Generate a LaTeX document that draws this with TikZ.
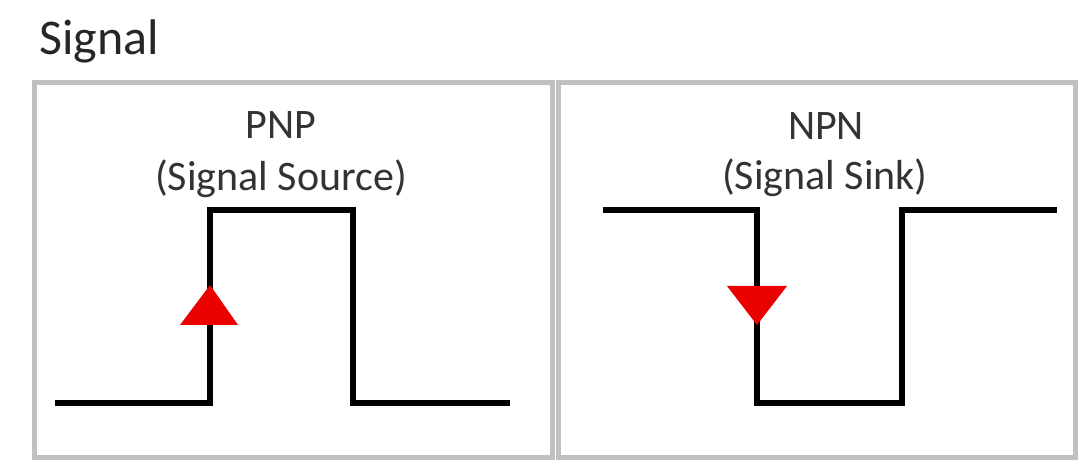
\documentclass[tikz,border=0pt]{standalone}
\usepackage{fontspec}
\setmainfont{Carlito}
\usetikzlibrary{positioning}
\definecolor{boxgray}{RGB}{192,192,192}
\definecolor{sigred}{RGB}{235,0,0}
\tikzset{
  panel/.style={draw=boxgray, line width=5pt, minimum height=374pt, inner sep=0pt},
  wave/.style={draw=black, line width=6.5pt, line join=miter},
  label/.style={font=\fontsize{42}{50}\selectfont, text=black!80, inner sep=0pt, anchor=base},
  marker/.style={fill=sigred}
}

\begin{document}
\begin{tikzpicture}[x=1pt, y=-1pt]
\useasboundingbox (0,0) rectangle (1088,473);
\node[font=\fontsize{50}{60}\selectfont, text=black!85, inner sep=0pt, anchor=base west] (title) at (39,55) {Signal};

% the two panels
\node[panel, minimum width=518pt] (src) at (293,270) {};
\node[panel, minimum width=517pt] (sink) at (816.5,270) {};

\node[label] (pnp) at (281,139) {PNP};
\node[label] (srcname) at (281,191) {(Signal Source)};
\node[label] (npn) at (826,140) {NPN};
\node[label] (sinkname) at (825,190) {(Signal Sink)};

% source pulse
\coordinate (a0) at (55,403);
\coordinate (a1) at (210,403);
\coordinate (a2) at (210,210);
\coordinate (a3) at (353,210);
\coordinate (a4) at (353,403);
\coordinate (a5) at (510,403);
\draw[wave] (a0) -- (a1) -- (a2) -- (a3) -- (a4) -- (a5);
\fill[marker] (180,325) -- (210,285) -- (238,325) -- cycle;

% sink pulse
\coordinate (b0) at (603,210);
\coordinate (b1) at (757,210);
\coordinate (b2) at (757,403);
\coordinate (b3) at (902,403);
\coordinate (b4) at (902,210);
\coordinate (b5) at (1057,210);
\draw[wave] (b0) -- (b1) -- (b2) -- (b3) -- (b4) -- (b5);
\fill[marker] (727,286) -- (787,286) -- (757,325) -- cycle;
\end{tikzpicture}
\end{document}
